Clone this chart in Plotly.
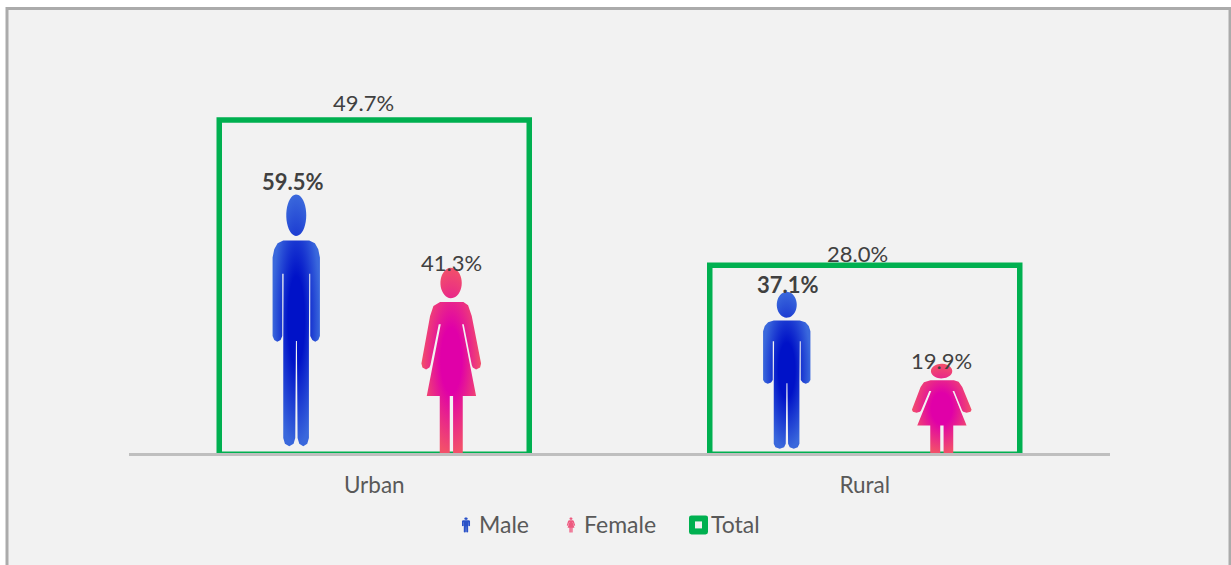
import numpy as np
import plotly.graph_objects as go

categories = ["Urban", "Rural"]
male = [59.5, 37.1]
female = [41.3, 19.9]
total = [49.7, 28.0]

W, H = 1231, 565
L, R, T, B = 129, 1110, 20, 453.5
FONT = "Lato"
CAT_PX = (R - L) / 2
TOTAL_SCALE = 6.71
PERSON_SCALE = 4.49


def ellipse(cx, cy, rx, ry, n=40):
    a = np.linspace(0, 2 * np.pi, n)
    return list(cx + rx * np.cos(a)), list(cy + ry * np.sin(a))


# Silhouette outlines: drawing templates, stretched by the value of each mark
MALE_BODY = [(250, 454), (328, 454), (345, 462), (355, 480), (360, 505), (360, 740), (355, 752), (346, 757),
             (337, 752), (331, 740), (331, 553), (328, 553), (327, 755), (327, 1045), (322, 1062), (310, 1070),
             (298, 1062), (293, 1045), (291, 755), (288, 755), (286, 1045), (281, 1062), (268, 1070), (255, 1062),
             (250, 1045), (250, 755), (251, 553), (247, 553), (247, 740), (242, 752), (232, 757), (223, 752),
             (218, 740), (218, 505), (223, 480), (233, 462)]
FEMALE_BODY = [(720, 638), (790, 638), (804, 648), (815, 680), (843, 820), (840, 832), (828, 838), (818, 832),
               (815, 825), (791, 704), (786, 704), (828, 916), (788, 916), (788, 1085), (759, 1085), (759, 916),
               (749, 916), (749, 1085), (719, 1085), (719, 916), (680, 916), (722, 704), (716, 704), (691, 825),
               (688, 832), (678, 838), (667, 832), (664, 820), (690, 680), (700, 650)]


def build(body, head, x0, top, bottom):
    hx, hy = ellipse(*head)
    xs = [p[0] for p in body] + [body[0][0]] + [None] + hx
    ys = [p[1] for p in body] + [body[0][1]] + [None] + hy
    u = [None if v is None else (v - x0) / 3 for v in xs]
    f = [None if v is None else (bottom - v) / (bottom - top) for v in ys]
    return u, f


MALE_T = build(MALE_BODY, (289, 378, 30, 62), 289, 315, 1070)
FEMALE_T = build(FEMALE_BODY, (753, 582, 32, 45), 753.5, 537, 1085)
MALE_OFF, FEMALE_OFF = -78, 77


def person(tmpl, center, value, off, pad_b, pad_t, inner, outer, name):
    xc = center + off / CAT_PX
    x = [None if u is None else xc + u / CAT_PX for u in tmpl[0]]
    y = [None if f is None else value * (pad_b + f * (1 - pad_b - pad_t)) for f in tmpl[1]]
    return go.Scatter(x=x, y=y, mode="none", fill="toself", yaxis="y2", name=name, showlegend=False,
                      hoverinfo="skip",
                      fillgradient=dict(type="radial", colorscale=[[0, inner], [0.35, inner], [1, outer]]))


fig = go.Figure()
BOX_HALF = 155 / CAT_PX
for i, c in enumerate(categories):
    fig.add_trace(go.Scatter(x=[i - BOX_HALF, i - BOX_HALF, i + BOX_HALF, i + BOX_HALF], y=[0, total[i], total[i], 0],
                             mode="lines", name="Total", showlegend=False, hoverinfo="skip",
                             line=dict(color="#00B050", width=5.5)))
    fig.add_trace(go.Scatter(x=[i - BOX_HALF, i + BOX_HALF], y=[0, 0], mode="lines", showlegend=False,
                             hoverinfo="skip", line=dict(color="#00B050", width=3)))
    fig.add_trace(person(MALE_T, i, male[i], MALE_OFF, 0.025, 0.03, "#0012C8", "#3A68DC", "Male"))
    fig.add_trace(person(FEMALE_T, i, female[i], FEMALE_OFF, 0, 0, "#E000A8", "#F2506A", "Female"))

LABEL_FONT = dict(family=FONT, size=22, color="#404040")
TOTAL_SHIFT = [(-11, 17), (-7, 12)]
MALE_SHIFT = [(-3, 4.5), (1, 2)]
FEMALE_SHIFT = [(0, 5), (0, 3)]
ann = []
for i in range(2):
    ann.append(dict(x=i, y=total[i], yref="y", text=f"{total[i]:.1f}%", showarrow=False, yanchor="middle",
                    xshift=TOTAL_SHIFT[i][0], yshift=TOTAL_SHIFT[i][1], font=LABEL_FONT))
    ann.append(dict(x=i + MALE_OFF / CAT_PX, y=male[i], yref="y2", text=f"<b>{male[i]:.1f}%</b>", showarrow=False,
                    yanchor="middle", xshift=MALE_SHIFT[i][0], yshift=MALE_SHIFT[i][1], font=LABEL_FONT))
    ann.append(dict(x=i + FEMALE_OFF / CAT_PX, y=female[i], yref="y2", text=f"{female[i]:.1f}%", showarrow=False,
                    yanchor="middle", xshift=FEMALE_SHIFT[i][0], yshift=FEMALE_SHIFT[i][1], font=LABEL_FONT))


def px(x):
    return (x - L) / (R - L)


def py(y):
    return (B - y) / (B - T)


for label, x in [("Male", 476.5), ("Female", 581.5), ("Total", 708.5)]:
    ann.append(dict(x=px(x), y=py(525), xref="paper", yref="paper", text=label, showarrow=False, xanchor="left",
                    yanchor="middle", font=dict(family=FONT, size=23, color="#595959")))


def legend_path(tmpl, cx, top, bottom, sx):
    s, pen = "", True
    fmax = max(f for f in tmpl[1] if f is not None)
    for u, f in zip(*tmpl):
        if u is None:
            s += "Z "
            pen = True
            continue
        X = px(cx + u * sx)
        Y = py(bottom - (bottom - top) * f / fmax)
        s += ("M" if pen else "L") + f"{X:.5f},{Y:.5f} "
        pen = False
    return s + "Z"


def rounded(x0, y0, x1, y1, r):
    a, b, c, d = px(x0), px(x1), py(y0), py(y1)
    rx, ry = r / (R - L), r / (B - T)
    return (f"M{a + rx},{c} L{b - rx},{c} Q{b},{c} {b},{c - ry} L{b},{d + ry} Q{b},{d} {b - rx},{d} "
            f"L{a + rx},{d} Q{a},{d} {a},{d + ry} L{a},{c - ry} Q{a},{c} {a + rx},{c} Z")


shapes = [
    dict(type="rect", xref="paper", yref="paper", x0=px(7), x1=px(1230), y0=py(8.5), y1=py(640), layer="below",
         fillcolor="#F2F2F2", line=dict(color="#ABABAB", width=3)),
    dict(type="path", xref="paper", yref="paper", path=legend_path(MALE_T, 466, 518, 533, 0.17), fillcolor="#2A52C8",
         line=dict(width=0)),
    dict(type="path", xref="paper", yref="paper", path=legend_path(FEMALE_T, 571, 518, 533, 0.14), fillcolor="#EE5A80",
         line=dict(width=0)),
    dict(type="path", xref="paper", yref="paper", path=rounded(689, 516, 708, 535, 2.5), fillcolor="#00B050",
         line=dict(width=0)),
    dict(type="rect", xref="paper", yref="paper", x0=px(695), x1=px(702), y0=py(522), y1=py(529),
         fillcolor="#F2F2F2", line=dict(width=0)),
]

fig.update_layout(
    width=W, height=H, autosize=False, showlegend=False,
    margin=dict(l=L, r=W - R, t=T, b=H - B, autoexpand=False, pad=0),
    paper_bgcolor="white", plot_bgcolor="rgba(0,0,0,0)",
    annotations=ann, shapes=shapes,
    xaxis=dict(range=[-0.5, 1.5], tickvals=[0, 1], ticktext=categories, showgrid=False, zeroline=False,
               showline=True, linewidth=3, linecolor="#BFBFBF", ticks="outside", ticklen=10,
               tickcolor="rgba(0,0,0,0)", tickfont=dict(family=FONT, size=22.5, color="#595959")),
    yaxis=dict(range=[0, (B - T) / TOTAL_SCALE], visible=False, fixedrange=True),
    yaxis2=dict(range=[0, (B - T) / PERSON_SCALE], visible=False, overlaying="y", fixedrange=True),
)
fig.write_html("out.html", config=dict(displayModeBar=False), post_script="document.body.style.margin='0';")
